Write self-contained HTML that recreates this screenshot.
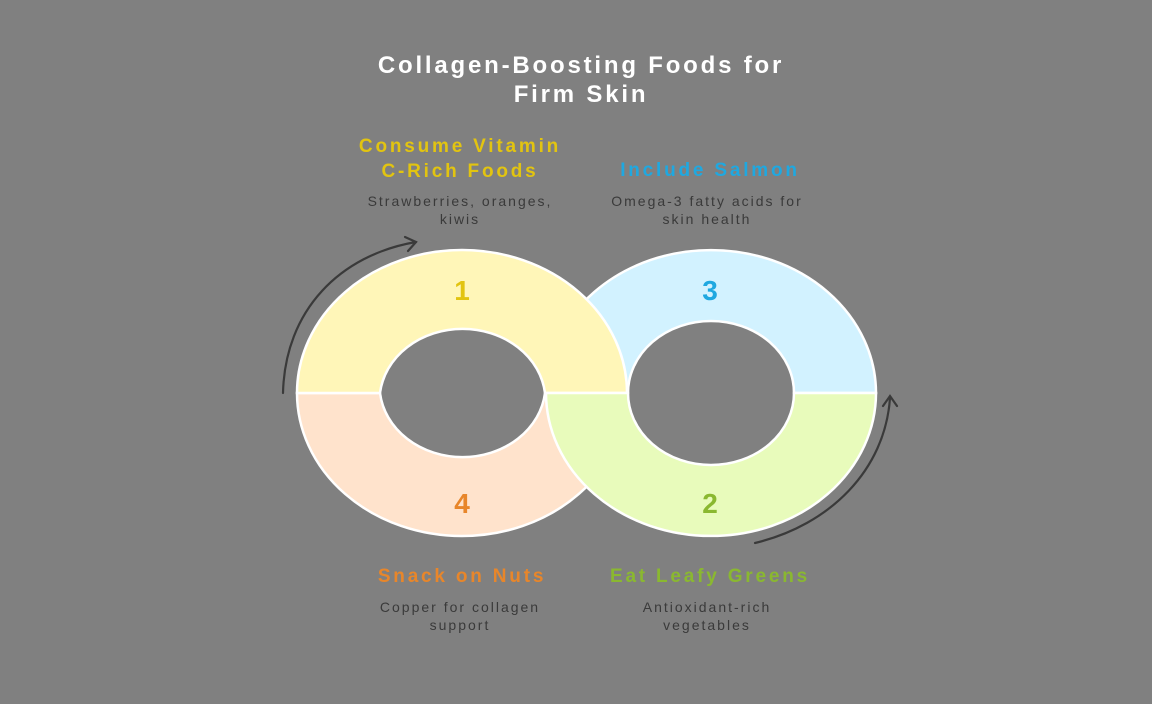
<!DOCTYPE html>
<html><head><meta charset="utf-8"><style>
body{margin:0;background:#808080;width:1152px;height:704px;overflow:hidden;font-family:"Liberation Sans",sans-serif}
svg{position:absolute;left:0;top:0}
</style></head><body>
<svg width="1152" height="704" viewBox="0 0 1152 704">
<rect width="1152" height="704" fill="#808080"/>
<g stroke="#fff" stroke-width="2.5">
<path d="M546,393 A165,143 0 0 1 876,393 L794,393 A83,72 0 0 0 628,393 Z" fill="#d2f2ff"/>
<path d="M297,393 A165,143 0 0 0 627,393 L545,393 A83,72 0 0 1 380,393 Z" fill="#ffe3cc"/>
<path d="M297,393 A165,143 0 0 1 627,393 L545,393 A83,72 0 0 0 380,393 Z" fill="#fff6b8"/>
<path d="M546,393 A165,143 0 0 0 876,393 L794,393 A83,72 0 0 1 628,393 Z" fill="#e8fbbb"/>
</g>
<g fill="none" stroke="#3a3a3a" stroke-width="2.2" stroke-linecap="round">
<path d="M283,393 C285,310 340,255 416,242"/>
<path d="M405,237 L416,242 L408,251"/>
<path d="M755,543 C830,525 885,470 890,398"/>
<path d="M883,406 L890,396 L897,406"/>
</g>
<g font-weight="bold" text-anchor="middle">
<text x="581" y="73" font-size="24" fill="#fff" letter-spacing="2.8">Collagen-Boosting Foods for</text>
<text x="581" y="102" font-size="24" fill="#fff" letter-spacing="2.8">Firm Skin</text>
<text x="460" y="152" font-size="19" fill="#e2c410" letter-spacing="2.8">Consume Vitamin</text>
<text x="460" y="177" font-size="19" fill="#e2c410" letter-spacing="2.8">C-Rich Foods</text>
<text x="710" y="176" font-size="19" fill="#1fa8e0" letter-spacing="2.8">Include Salmon</text>
<text x="462" y="582" font-size="19" fill="#e8862a" letter-spacing="2.8">Snack on Nuts</text>
<text x="710" y="582" font-size="19" fill="#8ab830" letter-spacing="2.8">Eat Leafy Greens</text>
<text x="462" y="300" font-size="28" fill="#e2c410">1</text>
<text x="710" y="300" font-size="28" fill="#1fa8e0">3</text>
<text x="462" y="513" font-size="28" fill="#e8862a">4</text>
<text x="710" y="513" font-size="28" fill="#8ab830">2</text>
</g>
<g text-anchor="middle" font-size="14" fill="#3a3a3a" letter-spacing="2">
<text x="460" y="206">Strawberries, oranges,</text>
<text x="460" y="224">kiwis</text>
<text x="707" y="206">Omega-3 fatty acids for</text>
<text x="707" y="224">skin health</text>
<text x="460" y="612">Copper for collagen</text>
<text x="460" y="630">support</text>
<text x="707" y="612">Antioxidant-rich</text>
<text x="707" y="630">vegetables</text>
</g>
</svg>
</body></html>
